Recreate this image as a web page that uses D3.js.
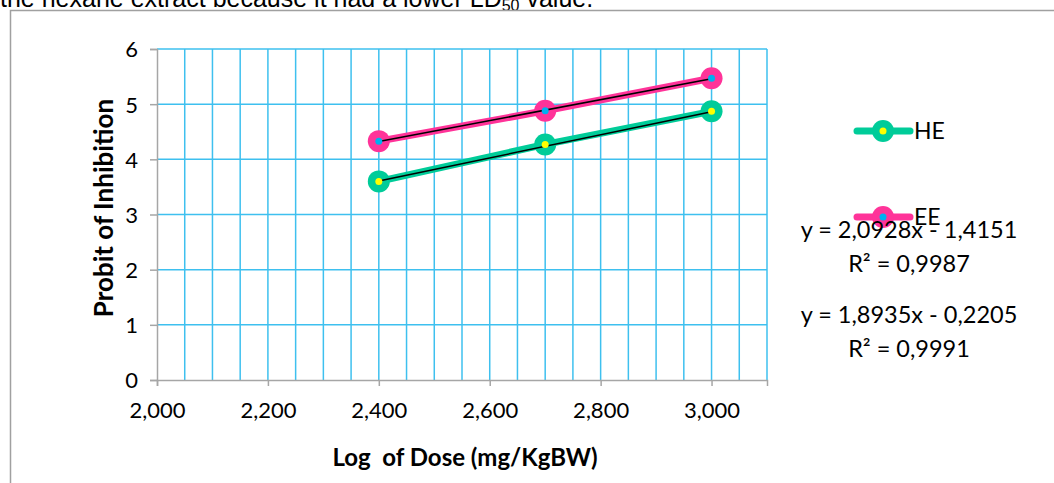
<!DOCTYPE html>
<html>
<head>
<meta charset="utf-8">
<script src="https://cdn.jsdelivr.net/npm/d3@7"></script>
<style>
  html, body { margin: 0; padding: 0; background: #ffffff; }
  svg { display: block; }
  text { white-space: pre; }
</style>
</head>
<body>
<script>
// ---- data ----
const logDose = [2.4, 2.7, 3.0];
const seriesNames = ["HE", "EE"];
const heValues = [3.6, 4.27, 4.87];
const eeValues = [4.33, 4.88, 5.47];
const trendSlopes = [2.0928, 1.8935];
const trendIntercepts = [-1.4151, -0.2205];
const equationLabels = ["y = 2,0928x - 1,4151", "y = 1,8935x - 0,2205"];
const r2Labels = ["R² = 0,9987", "R² = 0,9991"];
const xTicks = [2.0, 2.2, 2.4, 2.6, 2.8, 3.0];
const yTicks = [0, 1, 2, 3, 4, 5, 6];
const xDomain = [2.0, 3.1];
const yDomain = [0, 6];
const xTitle = "Log  of Dose (mg/KgBW)";
const yTitle = "Probit of Inhibition";
const captionText = "the hexane extract because it had a lower LD";

const W = 1054, H = 483;
const lineColors = ["#00CC99", "#FF3399"];
const dotColors = ["#FFFF00", "#00B0F0"];
const gridColor = "#3EC0EF";
const axisColor = "#A6A6A6";
const font = "Lato, 'Open Sans', sans-serif";

const svg = d3.select("body").append("svg").attr("width", W).attr("height", H);

// caption text cut off at top
const cap = svg.append("text").attr("x", 0).attr("y", 7)
  .attr("font-family", "'Liberation Sans', Arial, sans-serif").attr("font-size", 25).attr("fill", "#000");
cap.append("tspan").text(captionText);
cap.append("tspan").attr("font-size", 16).attr("dy", 4).text("50");
cap.append("tspan").attr("dy", -4).text(" value.");

// outer frame
svg.append("rect").attr("x", 10.5).attr("y", 10.5).attr("width", W + 20).attr("height", H + 20)
  .attr("fill", "none").attr("stroke", "#A0A0A0").attr("stroke-width", 1.5);

const x = d3.scaleLinear().domain(xDomain).range([157, 767]);
const y = d3.scaleLinear().domain(yDomain).range([380, 49]);

const locale = d3.formatLocale({decimal: ",", thousands: ".", grouping: [3], currency: ["", ""]});
const fmtX = locale.format(".3f");

// grid
const g = svg.append("g");
g.selectAll("line.h").data(yTicks.filter(d => d > 0)).join("line")
  .attr("x1", x(xDomain[0])).attr("x2", x(xDomain[1]))
  .attr("y1", d => y(d)).attr("y2", d => y(d))
  .attr("stroke", gridColor).attr("stroke-width", 1.5);
const vGrid = d3.range(1, 23).map(i => xDomain[0] + i * 0.05);
g.selectAll("line.v").data(vGrid).join("line")
  .attr("x1", d => x(d)).attr("x2", d => x(d))
  .attr("y1", y(yDomain[0])).attr("y2", y(yDomain[1]))
  .attr("stroke", gridColor).attr("stroke-width", 1.5);

// axes
const xAxis = d3.axisBottom(x).tickValues(xTicks).tickFormat(fmtX).tickSize(6).tickPadding(16);
const yAxis = d3.axisLeft(y).tickValues(yTicks).tickFormat(d3.format("d")).tickSize(7).tickPadding(12);
const gx = svg.append("g").attr("transform", `translate(0,${y(0)})`).call(xAxis);
const gy = svg.append("g").attr("transform", `translate(${x(xDomain[0])},0)`).call(yAxis);
[gx, gy].forEach(a => {
  a.select(".domain").attr("stroke", axisColor).attr("stroke-width", 1.5);
  a.selectAll(".tick line").attr("stroke", axisColor).attr("stroke-width", 1.5);
  a.selectAll("text").attr("font-family", font).attr("font-size", 22).attr("fill", "#000");
});
gy.selectAll("text").attr("dy", "0.36em");

// titles
svg.append("text").attr("x", 465).attr("y", 466).attr("text-anchor", "middle")
  .attr("font-family", font).attr("font-weight", "bold").attr("font-size", 24)
  .attr("xml:space", "preserve").text(xTitle);
svg.append("text").attr("transform", "translate(113,208) rotate(-90)").attr("text-anchor", "middle")
  .attr("font-family", font).attr("font-weight", "bold").attr("font-size", 26).text(yTitle);

// series
const seriesData = [heValues, eeValues];
const line = d3.line().x((d, i) => x(logDose[i])).y(d => y(d));
seriesData.forEach((vals, si) => {
  svg.append("path").datum(vals).attr("d", line).attr("fill", "none")
    .attr("stroke", lineColors[si]).attr("stroke-width", 7).attr("stroke-linecap", "round");
  svg.selectAll(null).data(vals).join("circle")
    .attr("cx", (d, i) => x(logDose[i])).attr("cy", d => y(d)).attr("r", 11)
    .attr("fill", lineColors[si]);
});
// trendlines
seriesData.forEach((vals, si) => {
  const x0 = logDose[0], x1 = logDose[logDose.length - 1];
  svg.append("line")
    .attr("x1", x(x0)).attr("y1", y(trendSlopes[si] * x0 + trendIntercepts[si]))
    .attr("x2", x(x1)).attr("y2", y(trendSlopes[si] * x1 + trendIntercepts[si]))
    .attr("stroke", "#000").attr("stroke-width", 1.5);
});
seriesData.forEach((vals, si) => {
  svg.selectAll(null).data(vals).join("circle")
    .attr("cx", (d, i) => x(logDose[i])).attr("cy", d => y(d)).attr("r", 3.5)
    .attr("fill", dotColors[si]);
});

// legend
const legY = [131, 217];
seriesNames.forEach((name, si) => {
  const lg = svg.append("g");
  lg.append("line").attr("x1", 857).attr("x2", 910).attr("y1", legY[si]).attr("y2", legY[si])
    .attr("stroke", lineColors[si]).attr("stroke-width", 7).attr("stroke-linecap", "round");
  lg.append("circle").attr("cx", 883).attr("cy", legY[si]).attr("r", 11).attr("fill", lineColors[si]);
  lg.append("circle").attr("cx", 883).attr("cy", legY[si]).attr("r", 3.5).attr("fill", dotColors[si]);
  lg.append("text").attr("x", 914).attr("y", legY[si] + 8).attr("font-family", font)
    .attr("font-size", 23).text(name);
});

// equations
const eqY = [[238, 272], [323, 357]];
equationLabels.forEach((t, i) => {
  svg.append("text").attr("x", 909).attr("y", eqY[i][0]).attr("text-anchor", "middle")
    .attr("font-family", font).attr("font-size", 23.5).attr("xml:space", "preserve").text(t);
  svg.append("text").attr("x", 909).attr("y", eqY[i][1]).attr("text-anchor", "middle")
    .attr("font-family", font).attr("font-size", 23.5).text(r2Labels[i]);
});
</script>
</body>
</html>
